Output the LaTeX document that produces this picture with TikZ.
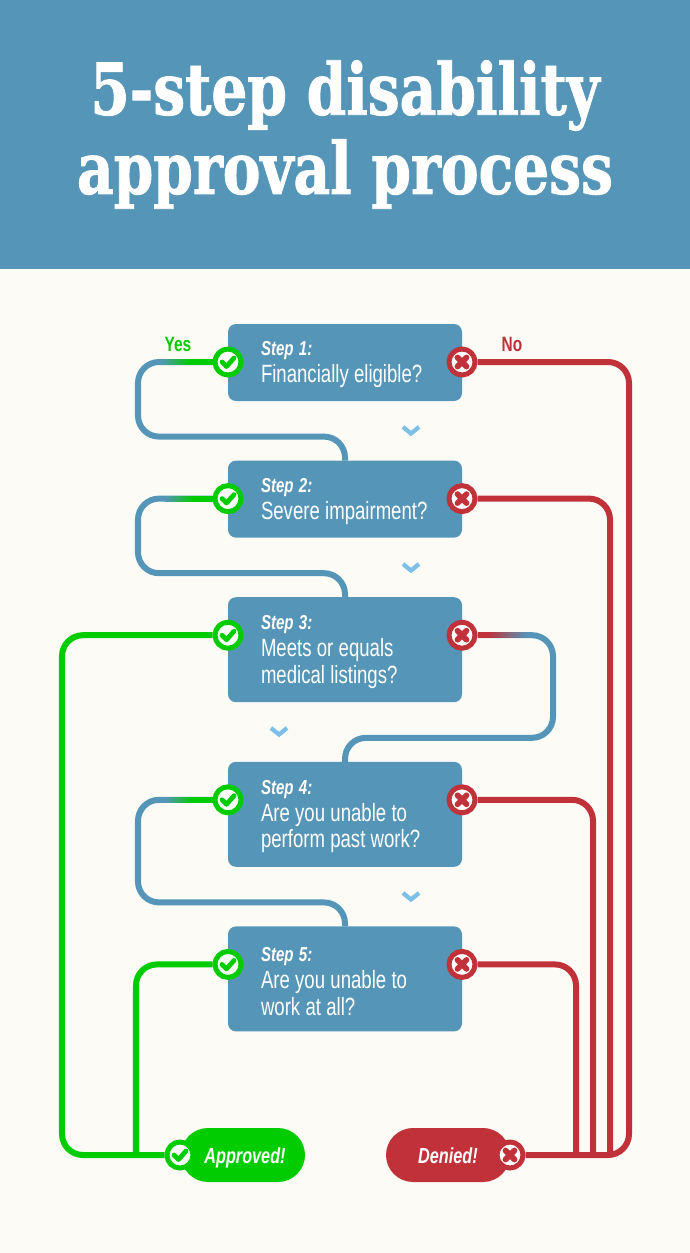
\documentclass[tikz,border=0pt]{standalone}
\usepackage{fontspec}
\usepackage{xcolor}
\usetikzlibrary{positioning, calc, backgrounds}
\setmainfont{Liberation Sans}
\newfontfamily\titlefont[FakeStretch=0.79,FakeBold=1.2]{DejaVu Serif}
\newfontfamily\narrowfont[FakeStretch=0.745]{Liberation Sans}
\definecolor{flowblue}{HTML}{5596B8}
\definecolor{flowgreen}{HTML}{00CC00}
\definecolor{flowred}{HTML}{C1313A}
\definecolor{flowcream}{HTML}{FCFBF6}
\definecolor{flowsky}{HTML}{7CC0E8}
\newcommand{\tightspace}{\spaceskip 3pt\relax}
\newcommand{\steplabel}[1]{\rule{0pt}{10.6pt}{\fontsize{11.5}{13}\selectfont\bfseries\itshape Step #1:}}
\newcommand{\fadelink}[5]{%
  \foreach \i in {0,...,19}{
    \pgfmathtruncatemacro{\mixpct}{100-\i*5}
    \draw[line width=1.2mm, #4!\mixpct!#5] ($(#1)+({#2+\i*(#3)/20},0)$) -- ++({1.2*(#3)/20},0);
  }}

\begin{document}
\begin{tikzpicture}[
    x=0.2mm, y=-0.2mm,
    node distance=11.92mm,
    header/.style={
      rectangle, fill=flowblue, text=white, minimum width=138mm, minimum height=53.8mm,
      inner sep=0pt, outer sep=0pt, align=center, font=\titlefont\bfseries\fontsize{40.8}{45}\selectfont
    },
    stepbox/.style={
      rectangle, rounded corners=1.6mm, fill=flowblue, text=white, outer sep=0pt,
      minimum width=46.8mm, inner xsep=6.6mm, inner ysep=0pt, text width=33.6mm, align=flush left,
      font=\narrowfont\fontsize{14.2}{15.3}\selectfont\tightspace
    },
    shortbox/.style={stepbox, minimum height=15.4mm},
    tallbox/.style={stepbox, minimum height=21mm},
    pill/.style={
      rectangle, rounded corners=5.4mm, text=white, minimum width=24.8mm, minimum height=10.8mm,
      inner sep=0pt, text height=9.6pt, text depth=0pt, font=\narrowfont\bfseries\itshape\fontsize{12.4}{14}\selectfont
    },
    yesbadge/.style={
      circle, draw=flowgreen, fill=white, line width=1mm, minimum size=5.2mm, inner sep=0pt,
      path picture={
        \draw[flowgreen, line width=0.95mm, line cap=round, line join=round,
          shift={(path picture bounding box.center)}] (-6,0) -- (-1.5,4.5) -- (6,-4);
      }
    },
    nobadge/.style={
      circle, draw=flowred, fill=white, line width=1mm, minimum size=5.2mm, inner sep=0pt,
      path picture={
        \draw[flowred, line width=1.15mm, line cap=round,
          shift={(path picture bounding box.center)}] (-4.5,-4.5) -- (4.5,4.5) (-4.5,4.5) -- (4.5,-4.5);
      }
    },
    link/.style={line width=1.2mm, rounded corners=4.2mm},
    bluelink/.style={link, draw=flowblue},
    greenlink/.style={link, draw=flowgreen},
    redlink/.style={link, draw=flowred},
    answer/.style={font=\narrowfont\bfseries\fontsize{11.8}{13}\selectfont},
    chevron/.pic={\draw[flowsky, line width=0.85mm] (-8,-4) -- (0,2.5) -- (8,-4);},
  ]

  \useasboundingbox (0,0) rectangle (690,1253);

  \node[header] (title) at (345,134.5) {5-step disability\\approval process};

  \node[shortbox, anchor=north] (step1) at (345,324) {\steplabel{1}\\\mbox{Financially eligible?}};
  \node[shortbox, below=of step1] (step2) {\steplabel{2}\\\mbox{Severe impairment?}};
  \node[tallbox, below=of step2] (step3) {\steplabel{3}\\Meets or equals\\medical listings?};
  \node[tallbox, below=of step3] (step4) {\steplabel{4}\\Are you unable to\\\mbox{perform past work?}};
  \node[tallbox, below=of step4] (step5) {\steplabel{5}\\Are you unable to\\work at all?};

  \node[yesbadge] (yes1) at ($(step1.north west)+(0,38)$) {};
  \node[yesbadge] (yes2) at ($(step2.north west)+(0,38)$) {};
  \node[yesbadge] (yes3) at ($(step3.north west)+(0,38)$) {};
  \node[yesbadge] (yes4) at ($(step4.north west)+(0,38)$) {};
  \node[yesbadge] (yes5) at ($(step5.north west)+(0,38)$) {};
  \node[nobadge] (no1) at ($(step1.north east)+(0,38)$) {};
  \node[nobadge] (no2) at ($(step2.north east)+(0,38)$) {};
  \node[nobadge] (no3) at ($(step3.north east)+(0,38)$) {};
  \node[nobadge] (no4) at ($(step4.north east)+(0,38)$) {};
  \node[nobadge] (no5) at ($(step5.north east)+(0,38)$) {};

  \node[pill, fill=flowgreen] (approved) at (243,1155) {\hspace{0.8mm}Approved!};
  \node[pill, fill=flowred] (denied) at (448,1155) {Denied!};
  \node[yesbadge] (yesend) at (180,1155) {};
  \node[nobadge] (noend) at (510,1155) {};

  \node[answer, text=flowgreen] (yeslabel) at (178,344) {Yes};
  \node[answer, text=flowred] (nolabel) at (512,344) {No};

  \pic at (411,431) {chevron};
  \pic at (411,568) {chevron};
  \pic at (279,732) {chevron};
  \pic at (411,897) {chevron};

  \begin{scope}[on background layer]
    \fill[flowcream] (0,0) rectangle (690,1253);

    % Yes branches
    \draw[bluelink] (yes1) -- ++(-90,0) |- ($(step2.north)+(0,-24)$) -- (step2.north);
    \draw[bluelink] (yes2) -- ++(-90,0) |- ($(step3.north)+(0,-24)$) -- (step3.north);
    \draw[bluelink] (yes4) -- ++(-90,0) |- ($(step5.north)+(0,-24)$) -- (step5.north);
    \draw[greenlink] (yes3) -- ++(-166,0) |- (yesend);
    \draw[greenlink] (yes5) -- ++(-92,0) coordinate (turnyes) -- (turnyes |- yesend);

    \fadelink{yes1}{-68}{30}{flowblue}{flowgreen}
    \draw[line width=1.2mm, flowgreen] ($(yes1)+(-38,0)$) -- (yes1);
    \fadelink{yes2}{-63}{28}{flowblue}{flowgreen}
    \draw[line width=1.2mm, flowgreen] ($(yes2)+(-35,0)$) -- (yes2);
    \fadelink{yes4}{-63}{28}{flowblue}{flowgreen}
    \draw[line width=1.2mm, flowgreen] ($(yes4)+(-35,0)$) -- (yes4);

    % No branches
    \draw[bluelink] (no3) -- ++(91,0) |- ($(step4.north)+(0,-24)$) -- (step4.north);
    \fadelink{no3}{25}{40}{flowred}{flowblue}
    \draw[line width=1.2mm, flowred] (no3) -- ++(25,0);

    \draw[redlink] (no1) -- ++(167,0) |- (noend);
    \draw[redlink] (no2) -- ++(148,0) coordinate (turnno2) -- (turnno2 |- noend);
    \draw[redlink] (no4) -- ++(131,0) coordinate (turnno4) -- (turnno4 |- noend);
    \draw[redlink] (no5) -- ++(114,0) coordinate (turnno5) -- (turnno5 |- noend);
  \end{scope}

\end{tikzpicture}
\end{document}
